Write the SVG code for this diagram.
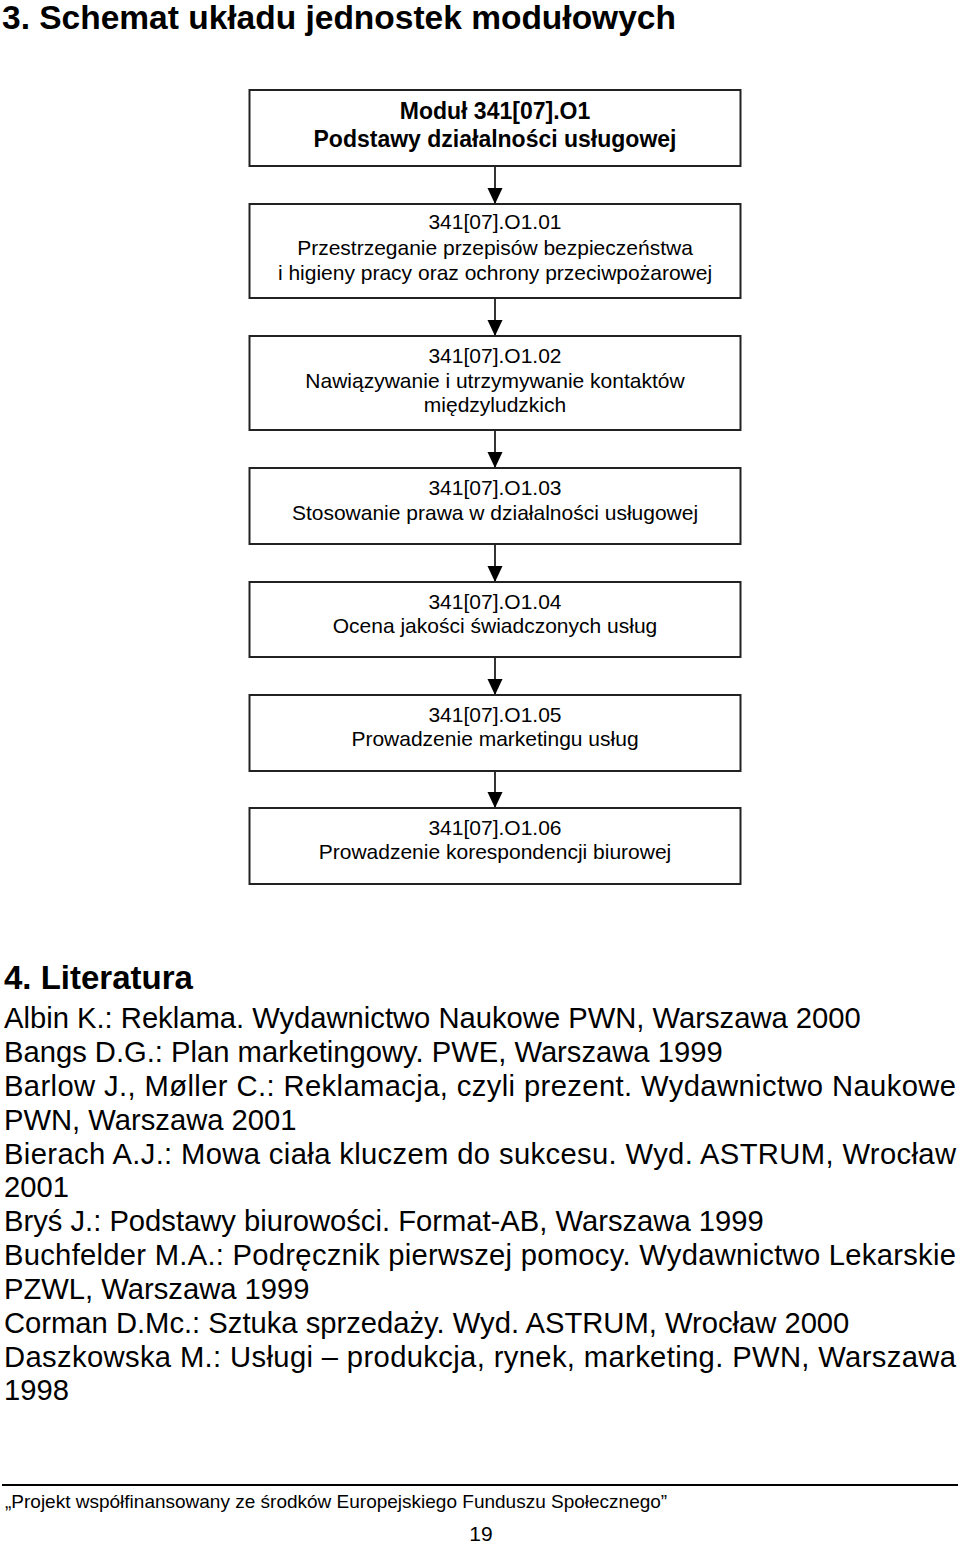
<svg xmlns="http://www.w3.org/2000/svg" width="960" height="1545" viewBox="0 0 960 1545">
<defs>
<marker id="ah" markerWidth="15" markerHeight="16" refX="16" refY="7.5" orient="auto" markerUnits="userSpaceOnUse">
<path d="M0,0 L16,7.5 L0,15 Z" fill="#000"/>
</marker>
<style>
.box{fill:#fff;stroke:#222;stroke-width:2}
.t{font-family:"Liberation Sans",Arial,sans-serif;fill:#000}
.bt{font-size:21px;text-anchor:middle}
.bb{font-size:23px;font-weight:bold;text-anchor:middle}
.lit{font-size:29.2px}
.conn{stroke:#000;stroke-width:1.6;fill:none}
</style>
</defs>
<rect width="960" height="1545" fill="#fff"/>
<text class="t" x="2" y="29" font-size="33.5" font-weight="bold">3. Schemat układu jednostek modułowych</text>

<g id="connectors">
<line class="conn" x1="495" y1="166" x2="495" y2="204" marker-end="url(#ah)"/>
<line class="conn" x1="495" y1="298" x2="495" y2="336" marker-end="url(#ah)"/>
<line class="conn" x1="495" y1="430" x2="495" y2="468" marker-end="url(#ah)"/>
<line class="conn" x1="495" y1="544" x2="495" y2="582" marker-end="url(#ah)"/>
<line class="conn" x1="495" y1="657" x2="495" y2="695" marker-end="url(#ah)"/>
<line class="conn" x1="495" y1="771" x2="495" y2="808" marker-end="url(#ah)"/>
</g>

<g id="n0">
<rect class="box" x="249.5" y="90" width="491" height="76"/>
<text class="t bb" x="495" y="119">Moduł 341[07].O1</text>
<text class="t bb" x="495" y="147">Podstawy działalności usługowej</text>
</g>
<g id="n1">
<rect class="box" x="249.5" y="204" width="491" height="94"/>
<text class="t bt" x="495" y="229">341[07].O1.01</text>
<text class="t bt" x="495" y="255">Przestrzeganie przepisów bezpieczeństwa</text>
<text class="t bt" x="495" y="280">i higieny pracy oraz ochrony przeciwpożarowej</text>
</g>
<g id="n2">
<rect class="box" x="249.5" y="336" width="491" height="94"/>
<text class="t bt" x="495" y="363">341[07].O1.02</text>
<text class="t bt" x="495" y="388">Nawiązywanie i utrzymywanie kontaktów</text>
<text class="t bt" x="495" y="412">międzyludzkich</text>
</g>
<g id="n3">
<rect class="box" x="249.5" y="468" width="491" height="76"/>
<text class="t bt" x="495" y="495">341[07].O1.03</text>
<text class="t bt" x="495" y="520">Stosowanie prawa w działalności usługowej</text>
</g>
<g id="n4">
<rect class="box" x="249.5" y="582" width="491" height="75"/>
<text class="t bt" x="495" y="609">341[07].O1.04</text>
<text class="t bt" x="495" y="633">Ocena jakości świadczonych usług</text>
</g>
<g id="n5">
<rect class="box" x="249.5" y="695" width="491" height="76"/>
<text class="t bt" x="495" y="722">341[07].O1.05</text>
<text class="t bt" x="495" y="746">Prowadzenie marketingu usług</text>
</g>
<g id="n6">
<rect class="box" x="249.5" y="808" width="491" height="76"/>
<text class="t bt" x="495" y="835">341[07].O1.06</text>
<text class="t bt" x="495" y="859">Prowadzenie korespondencji biurowej</text>
</g>

<g id="literatura">
<text class="t" x="4" y="989" font-size="33" font-weight="bold">4. Literatura</text>
<text class="t lit" x="4" y="1028">Albin K.: Reklama. Wydawnictwo Naukowe PWN, Warszawa 2000</text>
<text class="t lit" x="4" y="1062">Bangs D.G.: Plan marketingowy. PWE, Warszawa 1999</text>
<text class="t lit" x="4" y="1096" textLength="952" lengthAdjust="spacing">Barlow J., Møller C.: Reklamacja, czyli prezent. Wydawnictwo Naukowe</text>
<text class="t lit" x="4" y="1130">PWN, Warszawa 2001</text>
<text class="t lit" x="4" y="1164" textLength="952" lengthAdjust="spacing">Bierach A.J.: Mowa ciała kluczem do sukcesu. Wyd. ASTRUM, Wrocław</text>
<text class="t lit" x="4" y="1197">2001</text>
<text class="t lit" x="4" y="1231">Bryś J.: Podstawy biurowości. Format-AB, Warszawa 1999</text>
<text class="t lit" x="4" y="1265" textLength="952" lengthAdjust="spacing">Buchfelder M.A.: Podręcznik pierwszej pomocy. Wydawnictwo Lekarskie</text>
<text class="t lit" x="4" y="1299">PZWL, Warszawa 1999</text>
<text class="t lit" x="4" y="1333">Corman D.Mc.: Sztuka sprzedaży. Wyd. ASTRUM, Wrocław 2000</text>
<text class="t lit" x="4" y="1367" textLength="952" lengthAdjust="spacing">Daszkowska M.: Usługi – produkcja, rynek, marketing. PWN, Warszawa</text>
<text class="t lit" x="4" y="1400">1998</text>
</g>

<g id="footer">
<line x1="2" y1="1485" x2="958" y2="1485" stroke="#000" stroke-width="2"/>
<text class="t" x="5" y="1508" font-size="19">„Projekt współfinansowany ze środków Europejskiego Funduszu Społecznego”</text>
<text class="t" x="481" y="1541" font-size="21" text-anchor="middle">19</text>
</g>
</svg>
